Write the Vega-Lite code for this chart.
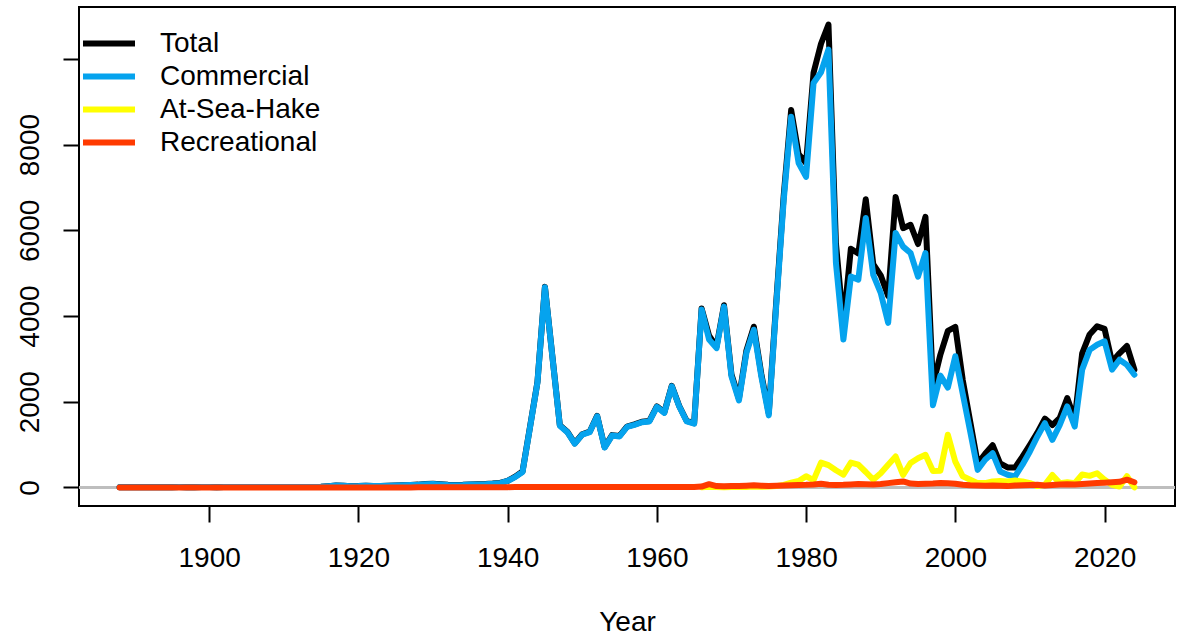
{
 "$schema": "https://vega.github.io/schema/vega-lite/v6.json",
 "width": 1096, "height": 499,
 "autosize": {"type": "none"},
 "padding": {"left": 79, "top": 7, "right": 14, "bottom": 129},
 "background": "white",
 "config": {
   "font": "Liberation Sans",
   "view": {"stroke": "black", "strokeWidth": 2},
   "axis": {"grid": false, "domain": false, "ticks": true, "tickColor": "black", "tickWidth": 2, "tickSize": 16, "labelFont": "Liberation Sans", "labelFontSize": 28, "labelColor": "black", "titleFont": "Liberation Sans", "titleFontSize": 28, "titleFontWeight": "normal", "titleColor": "black"}
 },
 "data": {"values": [
  {"Year":1888,"Total":2,"Commercial":2,"Recreational":0},
  {"Year":1889,"Total":3,"Commercial":3,"Recreational":0},
  {"Year":1890,"Total":5,"Commercial":5,"Recreational":0},
  {"Year":1891,"Total":4,"Commercial":4,"Recreational":0},
  {"Year":1892,"Total":6,"Commercial":6,"Recreational":0},
  {"Year":1893,"Total":5,"Commercial":5,"Recreational":0},
  {"Year":1894,"Total":4,"Commercial":4,"Recreational":0},
  {"Year":1895,"Total":6,"Commercial":6,"Recreational":0},
  {"Year":1896,"Total":7,"Commercial":7,"Recreational":0},
  {"Year":1897,"Total":5,"Commercial":5,"Recreational":0},
  {"Year":1898,"Total":6,"Commercial":6,"Recreational":0},
  {"Year":1899,"Total":8,"Commercial":8,"Recreational":0},
  {"Year":1900,"Total":7,"Commercial":7,"Recreational":0},
  {"Year":1901,"Total":6,"Commercial":6,"Recreational":0},
  {"Year":1902,"Total":8,"Commercial":8,"Recreational":0},
  {"Year":1903,"Total":9,"Commercial":9,"Recreational":0},
  {"Year":1904,"Total":7,"Commercial":7,"Recreational":0},
  {"Year":1905,"Total":8,"Commercial":8,"Recreational":0},
  {"Year":1906,"Total":10,"Commercial":10,"Recreational":0},
  {"Year":1907,"Total":9,"Commercial":9,"Recreational":0},
  {"Year":1908,"Total":8,"Commercial":8,"Recreational":0},
  {"Year":1909,"Total":10,"Commercial":10,"Recreational":0},
  {"Year":1910,"Total":11,"Commercial":11,"Recreational":0},
  {"Year":1911,"Total":9,"Commercial":9,"Recreational":0},
  {"Year":1912,"Total":10,"Commercial":10,"Recreational":0},
  {"Year":1913,"Total":12,"Commercial":12,"Recreational":0},
  {"Year":1914,"Total":11,"Commercial":11,"Recreational":0},
  {"Year":1915,"Total":13,"Commercial":13,"Recreational":0},
  {"Year":1916,"Total":30,"Commercial":30,"Recreational":0},
  {"Year":1917,"Total":45,"Commercial":45,"Recreational":0},
  {"Year":1918,"Total":40,"Commercial":40,"Recreational":0},
  {"Year":1919,"Total":25,"Commercial":25,"Recreational":0},
  {"Year":1920,"Total":30,"Commercial":30,"Recreational":0},
  {"Year":1921,"Total":40,"Commercial":40,"Recreational":0},
  {"Year":1922,"Total":30,"Commercial":30,"Recreational":0},
  {"Year":1923,"Total":35,"Commercial":35,"Recreational":0},
  {"Year":1924,"Total":40,"Commercial":40,"Recreational":0},
  {"Year":1925,"Total":45,"Commercial":45,"Recreational":0},
  {"Year":1926,"Total":50,"Commercial":50,"Recreational":0},
  {"Year":1927,"Total":55,"Commercial":55,"Recreational":0},
  {"Year":1928,"Total":65,"Commercial":60,"Recreational":5},
  {"Year":1929,"Total":80,"Commercial":75,"Recreational":5},
  {"Year":1930,"Total":85,"Commercial":80,"Recreational":5},
  {"Year":1931,"Total":75,"Commercial":70,"Recreational":5},
  {"Year":1932,"Total":60,"Commercial":55,"Recreational":5},
  {"Year":1933,"Total":55,"Commercial":50,"Recreational":5},
  {"Year":1934,"Total":60,"Commercial":55,"Recreational":5},
  {"Year":1935,"Total":70,"Commercial":65,"Recreational":5},
  {"Year":1936,"Total":75,"Commercial":70,"Recreational":5},
  {"Year":1937,"Total":80,"Commercial":75,"Recreational":5},
  {"Year":1938,"Total":90,"Commercial":85,"Recreational":5},
  {"Year":1939,"Total":105,"Commercial":100,"Recreational":5},
  {"Year":1940,"Total":155,"Commercial":150,"Recreational":5},
  {"Year":1941,"Total":250,"Commercial":240,"Recreational":10},
  {"Year":1942,"Total":370,"Commercial":360,"Recreational":10},
  {"Year":1943,"Total":1410,"Commercial":1400,"Recreational":10},
  {"Year":1944,"Total":2460,"Commercial":2450,"Recreational":10},
  {"Year":1945,"Total":4680,"Commercial":4670,"Recreational":10},
  {"Year":1946,"Total":3060,"Commercial":3050,"Recreational":10},
  {"Year":1947,"Total":1450,"Commercial":1440,"Recreational":10},
  {"Year":1948,"Total":1300,"Commercial":1290,"Recreational":10},
  {"Year":1949,"Total":1030,"Commercial":1020,"Recreational":10},
  {"Year":1950,"Total":1240,"Commercial":1230,"Recreational":10},
  {"Year":1951,"Total":1300,"Commercial":1290,"Recreational":10},
  {"Year":1952,"Total":1670,"Commercial":1660,"Recreational":10},
  {"Year":1953,"Total":940,"Commercial":930,"Recreational":10},
  {"Year":1954,"Total":1220,"Commercial":1210,"Recreational":10},
  {"Year":1955,"Total":1200,"Commercial":1190,"Recreational":10},
  {"Year":1956,"Total":1420,"Commercial":1410,"Recreational":10},
  {"Year":1957,"Total":1470,"Commercial":1460,"Recreational":10},
  {"Year":1958,"Total":1530,"Commercial":1520,"Recreational":10},
  {"Year":1959,"Total":1550,"Commercial":1540,"Recreational":10},
  {"Year":1960,"Total":1890,"Commercial":1880,"Recreational":10},
  {"Year":1961,"Total":1750,"Commercial":1740,"Recreational":10},
  {"Year":1962,"Total":2370,"Commercial":2360,"Recreational":10},
  {"Year":1963,"Total":1900,"Commercial":1890,"Recreational":10},
  {"Year":1964,"Total":1550,"Commercial":1540,"Recreational":10},
  {"Year":1965,"Total":1500,"Commercial":1490,"Recreational":10},
  {"Year":1966,"Total":4175,"Commercial":4150,"AtSeaHake":5,"Recreational":20},
  {"Year":1967,"Total":3540,"Commercial":3450,"AtSeaHake":15,"Recreational":75},
  {"Year":1968,"Total":3290,"Commercial":3250,"AtSeaHake":10,"Recreational":30},
  {"Year":1969,"Total":4250,"Commercial":4220,"AtSeaHake":5,"Recreational":25},
  {"Year":1970,"Total":2635,"Commercial":2590,"AtSeaHake":10,"Recreational":35},
  {"Year":1971,"Total":2075,"Commercial":2030,"AtSeaHake":15,"Recreational":30},
  {"Year":1972,"Total":3190,"Commercial":3140,"AtSeaHake":10,"Recreational":40},
  {"Year":1973,"Total":3750,"Commercial":3680,"AtSeaHake":20,"Recreational":50},
  {"Year":1974,"Total":2645,"Commercial":2590,"AtSeaHake":15,"Recreational":40},
  {"Year":1975,"Total":1735,"Commercial":1680,"AtSeaHake":20,"Recreational":35},
  {"Year":1976,"Total":4320,"Commercial":4250,"AtSeaHake":30,"Recreational":40},
  {"Year":1977,"Total":6805,"Commercial":6700,"AtSeaHake":60,"Recreational":45},
  {"Year":1978,"Total":8810,"Commercial":8650,"AtSeaHake":110,"Recreational":50},
  {"Year":1979,"Total":7775,"Commercial":7570,"AtSeaHake":150,"Recreational":55},
  {"Year":1980,"Total":7570,"Commercial":7250,"AtSeaHake":260,"Recreational":60},
  {"Year":1981,"Total":9680,"Commercial":9440,"AtSeaHake":170,"Recreational":70},
  {"Year":1982,"Total":10355,"Commercial":9690,"AtSeaHake":580,"Recreational":85},
  {"Year":1983,"Total":10800,"Commercial":10220,"AtSeaHake":520,"Recreational":60},
  {"Year":1984,"Total":5695,"Commercial":5240,"AtSeaHake":400,"Recreational":55},
  {"Year":1985,"Total":3810,"Commercial":3450,"AtSeaHake":300,"Recreational":60},
  {"Year":1986,"Total":5570,"Commercial":4920,"AtSeaHake":580,"Recreational":70},
  {"Year":1987,"Total":5460,"Commercial":4850,"AtSeaHake":530,"Recreational":80},
  {"Year":1988,"Total":6725,"Commercial":6290,"AtSeaHake":360,"Recreational":75},
  {"Year":1989,"Total":5210,"Commercial":4960,"AtSeaHake":180,"Recreational":70},
  {"Year":1990,"Total":4950,"Commercial":4540,"AtSeaHake":330,"Recreational":80},
  {"Year":1991,"Total":4470,"Commercial":3840,"AtSeaHake":530,"Recreational":100},
  {"Year":1992,"Total":6780,"Commercial":5940,"AtSeaHake":720,"Recreational":120},
  {"Year":1993,"Total":6050,"Commercial":5620,"AtSeaHake":290,"Recreational":140},
  {"Year":1994,"Total":6130,"Commercial":5470,"AtSeaHake":570,"Recreational":90},
  {"Year":1995,"Total":5680,"Commercial":4920,"AtSeaHake":680,"Recreational":80},
  {"Year":1996,"Total":6315,"Commercial":5470,"AtSeaHake":760,"Recreational":85},
  {"Year":1997,"Total":2390,"Commercial":1920,"AtSeaHake":380,"Recreational":90},
  {"Year":1998,"Total":3100,"Commercial":2610,"AtSeaHake":390,"Recreational":100},
  {"Year":1999,"Total":3655,"Commercial":2330,"AtSeaHake":1230,"Recreational":95},
  {"Year":2000,"Total":3745,"Commercial":3060,"AtSeaHake":600,"Recreational":85},
  {"Year":2001,"Total":2500,"Commercial":2180,"AtSeaHake":260,"Recreational":60},
  {"Year":2002,"Total":1530,"Commercial":1300,"AtSeaHake":180,"Recreational":50},
  {"Year":2003,"Total":555,"Commercial":410,"AtSeaHake":100,"Recreational":45},
  {"Year":2004,"Total":786,"Commercial":646,"AtSeaHake":100,"Recreational":40},
  {"Year":2005,"Total":985,"Commercial":800,"AtSeaHake":140,"Recreational":45},
  {"Year":2006,"Total":563,"Commercial":373,"AtSeaHake":150,"Recreational":40},
  {"Year":2007,"Total":466,"Commercial":296,"AtSeaHake":140,"Recreational":30},
  {"Year":2008,"Total":462,"Commercial":257,"AtSeaHake":160,"Recreational":45},
  {"Year":2009,"Total":720,"Commercial":530,"AtSeaHake":140,"Recreational":50},
  {"Year":2010,"Total":995,"Commercial":840,"AtSeaHake":100,"Recreational":55},
  {"Year":2011,"Total":1280,"Commercial":1190,"AtSeaHake":30,"Recreational":60},
  {"Year":2012,"Total":1605,"Commercial":1500,"AtSeaHake":60,"Recreational":45},
  {"Year":2013,"Total":1455,"Commercial":1110,"AtSeaHake":290,"Recreational":55},
  {"Year":2014,"Total":1625,"Commercial":1460,"AtSeaHake":100,"Recreational":65},
  {"Year":2015,"Total":2085,"Commercial":1890,"AtSeaHake":120,"Recreational":75},
  {"Year":2016,"Total":1590,"Commercial":1420,"AtSeaHake":100,"Recreational":70},
  {"Year":2017,"Total":3130,"Commercial":2750,"AtSeaHake":300,"Recreational":80},
  {"Year":2018,"Total":3570,"Commercial":3210,"AtSeaHake":270,"Recreational":90},
  {"Year":2019,"Total":3760,"Commercial":3330,"AtSeaHake":330,"Recreational":100},
  {"Year":2020,"Total":3700,"Commercial":3410,"AtSeaHake":180,"Recreational":110},
  {"Year":2021,"Total":2930,"Commercial":2750,"AtSeaHake":60,"Recreational":120},
  {"Year":2022,"Total":3130,"Commercial":2980,"AtSeaHake":20,"Recreational":130},
  {"Year":2023,"Total":3300,"Commercial":2860,"AtSeaHake":260,"Recreational":180},
  {"Year":2024,"Total":2750,"Commercial":2630,"AtSeaHake":0,"Recreational":120}
 ]},
 "layer": [
  {"mark": {"type": "rule", "color": "#BEBEBE", "strokeWidth": 2},
   "encoding": {"y": {"datum": 0, "type": "quantitative", "scale": {"domain": [-434, 11212], "nice": false, "zero": false},
     "axis": {"title": null, "values": [0, 2000, 4000, 6000, 8000, 10000], "format": "d", "labelExpr": "datum.value == 10000 ? '' : datum.label", "labelAngle": 270, "labelAlign": "center", "labelBaseline": "bottom", "labelPadding": 19, "labelFlush": false, "labelOverlap": false}}}},
  {"mark": {"type": "line", "strokeWidth": 6, "strokeCap": "round", "strokeJoin": "round"},
   "encoding": {
     "x": {"field": "Year", "type": "quantitative", "scale": {"domain": [1882.56, 2029.44], "nice": false, "zero": false},
       "axis": {"title": "Year", "values": [1900, 1920, 1940, 1960, 1980, 2000, 2020], "format": "d", "labelPadding": 22, "titlePadding": 36, "labelFlush": false}},
     "y": {"field": "Total", "type": "quantitative", "title": null},
     "color": {"datum": "Total", "scale": {"domain": ["Total", "Commercial", "At-Sea-Hake", "Recreational"], "range": ["#000000", "#05A3EE", "#FFFF00", "#FF3A00"]},
       "legend": {"orient": "none", "legendX": 1, "legendY": 20, "title": null, "symbolType": "stroke", "symbolSize": 2704, "symbolStrokeWidth": 6, "labelFont": "Liberation Sans", "labelFontSize": 28, "labelColor": "black", "labelOffset": 22, "labelLimit": 0, "clipHeight": 33, "rowPadding": 0, "padding": 0, "symbolOffset": 0}}
   }},
  {"mark": {"type": "line", "strokeWidth": 6, "strokeCap": "round", "strokeJoin": "round"},
   "encoding": {"x": {"field": "Year", "type": "quantitative"}, "y": {"field": "Commercial", "type": "quantitative", "title": null}, "color": {"datum": "Commercial"}}},
  {"mark": {"type": "line", "strokeWidth": 6, "strokeCap": "round", "strokeJoin": "round"},
   "encoding": {"x": {"field": "Year", "type": "quantitative"}, "y": {"field": "AtSeaHake", "type": "quantitative", "title": null}, "color": {"datum": "At-Sea-Hake"}}},
  {"mark": {"type": "line", "strokeWidth": 6, "strokeCap": "round", "strokeJoin": "round"},
   "encoding": {"x": {"field": "Year", "type": "quantitative"}, "y": {"field": "Recreational", "type": "quantitative", "title": null}, "color": {"datum": "Recreational"}}}
 ]
}
